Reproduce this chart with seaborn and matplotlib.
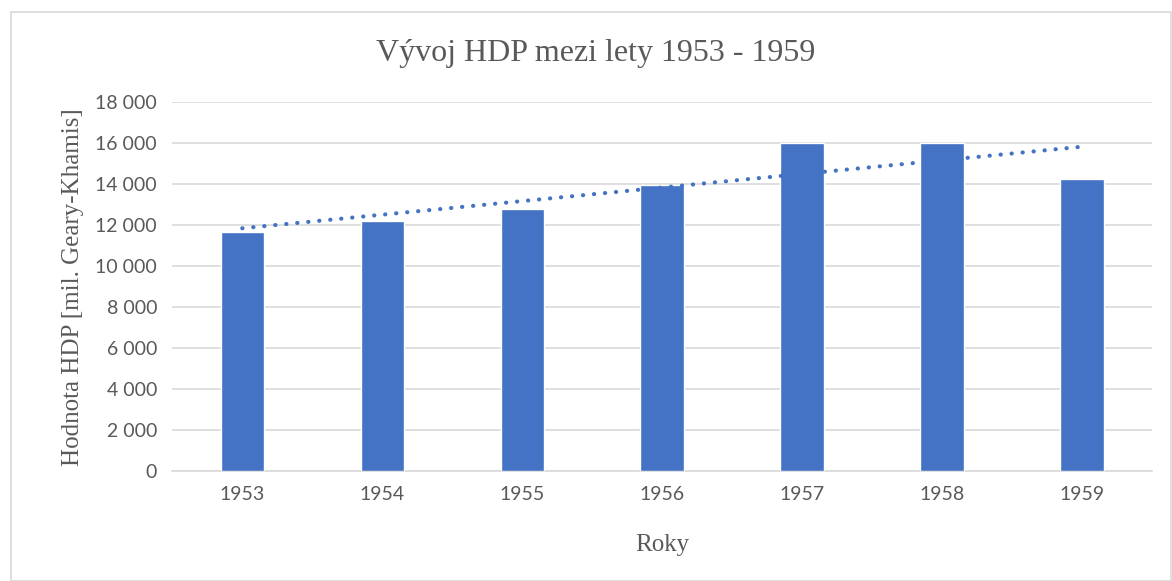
import numpy as np
import pandas as pd
import matplotlib
matplotlib.use("Agg")
import matplotlib.pyplot as plt
import seaborn as sns

# Data
years = ["1953", "1954", "1955", "1956", "1957", "1958", "1959"]
hdp = [11650, 12230, 12800, 13950, 16000, 16000, 14260]
y_ticks = [0, 2000, 4000, 6000, 8000, 10000, 12000, 14000, 16000, 18000]

df = pd.DataFrame({"rok": years, "hdp": hdp})

sns.set_theme(style="white")
serif = ["Liberation Serif", "DejaVu Serif"]
sans = ["Lato", "DejaVu Sans"]

fig = plt.figure(figsize=(11.72, 5.81), dpi=100)
ax = fig.add_axes([0.147, 0.189, 0.836, 0.635])

# Bars
sns.barplot(data=df, x="rok", y="hdp", color="#4472C4", width=0.31,
            saturation=1, ax=ax, zorder=3)

# Linear trend line (dotted)
sns.regplot(x=np.arange(len(years)), y=np.array(hdp), ax=ax, scatter=False,
            ci=None, truncate=True,
            line_kws=dict(color="#4472C4", lw=3.0, linestyle=(0, (0.05, 2.6)),
                          dash_capstyle="round", zorder=4))

ax.set_xlim(-0.5, len(years) - 0.5)
ax.set_ylim(0, 18000)
ax.set_yticks(y_ticks)
ax.set_yticklabels([f"{v:,}".replace(",", " ") for v in y_ticks])
ax.set_xticks(range(len(years)))
ax.set_xticklabels(years)

ax.yaxis.grid(True, color="#d9d9d9", lw=1.2, zorder=0)
ax.set_axisbelow(True)
for s in ["top", "right", "left"]:
    ax.spines[s].set_visible(False)
ax.spines["bottom"].set_color("#d9d9d9")
ax.spines["bottom"].set_linewidth(1.2)

ax.tick_params(axis="both", length=0, colors="#595959", labelsize=14, pad=11)
for lbl in ax.get_xticklabels() + ax.get_yticklabels():
    lbl.set_family(sans)

ax.set_xlabel("Roky", family=serif, fontsize=18, color="#595959", labelpad=22)
ax.set_ylabel("Hodnota HDP [mil. Geary-Khamis]", family=serif, fontsize=18,
              color="#595959", labelpad=8)
fig.text(0.508, 0.908, "Vývoj HDP mezi lety 1953 - 1959", family=serif,
         fontsize=23, color="#595959", ha="center", va="center")

# light grey border around the chart area
fig.patches.append(plt.Rectangle((0.009, 0.0), 0.99, 0.979, transform=fig.transFigure,
                                 fill=False, edgecolor="#d9d9d9", lw=1.2))

fig.savefig("out.png", dpi=100, facecolor="white")
